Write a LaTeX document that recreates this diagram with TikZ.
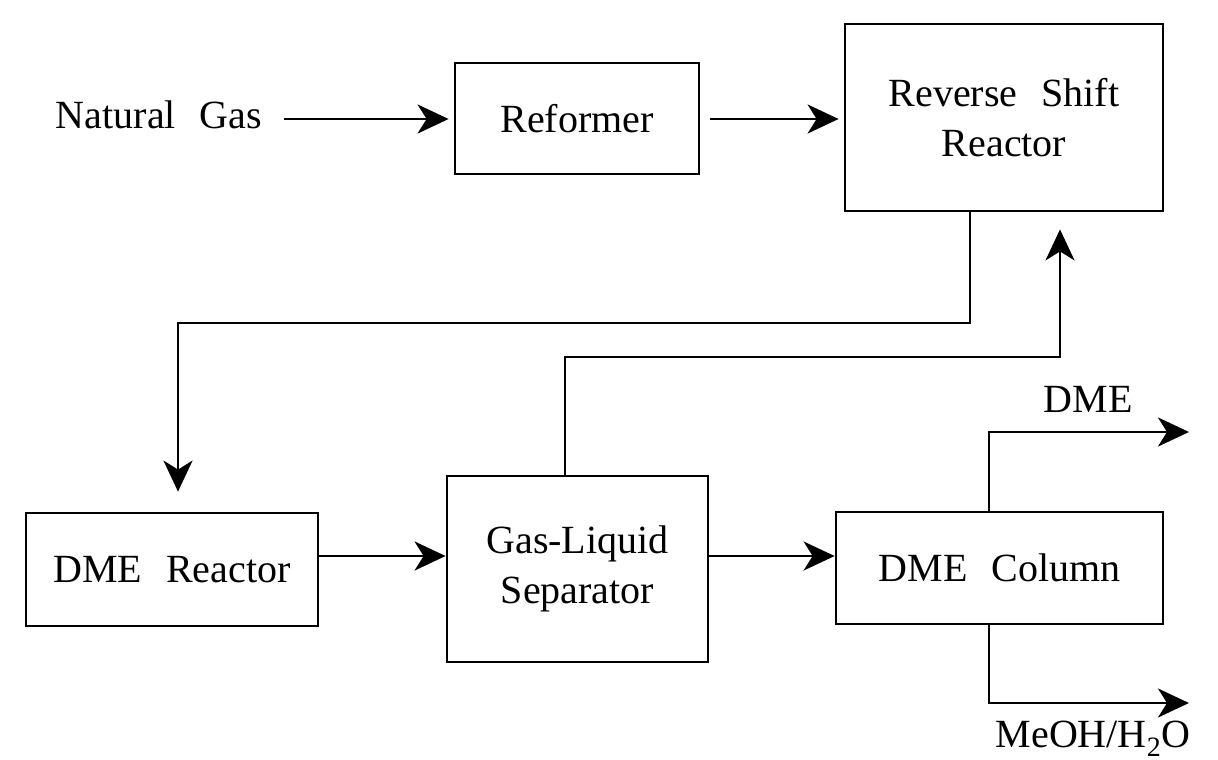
\documentclass[tikz,border=0pt]{standalone}
\usepackage{fontspec}
\setmainfont{Liberation Serif}
\usetikzlibrary{arrows.meta}
\newcommand\wsp{\hspace{0.6em}}
\begin{document}
\begin{tikzpicture}[x=1pt,y=-1pt,
  box/.style={draw,line width=2.8pt,inner sep=0pt,align=center,font=\fontsize{40}{50}\selectfont},
  lbl/.style={inner sep=0pt,font=\fontsize{40}{50}\selectfont},
  flow/.style={line width=2.5pt,-{Stealth[length=31pt,width=29pt,inset=9pt]}}]
\useasboundingbox[fill=white] (0,0) rectangle (1218,760);
% boxes
\node[box,minimum width=244pt,minimum height=111pt] (ref) at (577,118.5) {Reformer};
\node[box,minimum width=318pt,minimum height=187pt] (rsr) at (1004,117.5) {Reverse\wsp Shift\\Reactor};
\node[box,minimum width=292pt,minimum height=113pt] (dmer) at (172,569.5) {DME\wsp Reactor};
\node[box,minimum width=261pt,minimum height=186pt] (gls) at (577.5,569) {Gas-Liquid\\Separator};
\node[box,minimum width=327pt,minimum height=112pt] (col) at (999.5,568) {DME\wsp Column};
% labels
\node[lbl,anchor=base] (ng) at (159,128) {Natural\wsp Gas};
\node[lbl,anchor=base] (dmel) at (1088,412) {DME};
\node[lbl,anchor=base] (meoh) at (1093,747) {MeOH/H\textsubscript{2}O};
% helper coordinates
\coordinate (r1) at (0,119);
\coordinate (r2) at (0,556);
\coordinate (f1) at (970,323);
\coordinate (f1b) at (178,323);
\coordinate (f2) at (565,357);
\coordinate (f2b) at (1060,357);
\coordinate (d1) at (989,432);
\coordinate (dEnd) at (1189,432);
\coordinate (m1) at (989,703);
\coordinate (mEnd) at (1189,703);
% connectors
\draw[flow,shorten <=22pt,shorten >=5pt] (ng.east |- r1) -- (ref.west |- r1);
\draw[flow,shorten <=10pt,shorten >=5pt] (ref.east |- r1) -- (rsr.west |- r1);
\draw[flow,shorten >=20pt] (rsr.south -| f1) -- (f1) -- (f1b) -- (dmer.north -| f1b);
\draw[flow,shorten >=17pt] (gls.north -| f2) -- (f2) -- (f2b) -- (rsr.south -| f2b);
\draw[flow] (dmer.east |- r2) -- (gls.west |- r2);
\draw[flow] (gls.east |- r2) -- (col.west |- r2);
\draw[flow] (col.north -| d1) -- (d1) -- (dEnd);
\draw[flow] (col.south -| m1) -- (m1) -- (mEnd);
\end{tikzpicture}
\end{document}
